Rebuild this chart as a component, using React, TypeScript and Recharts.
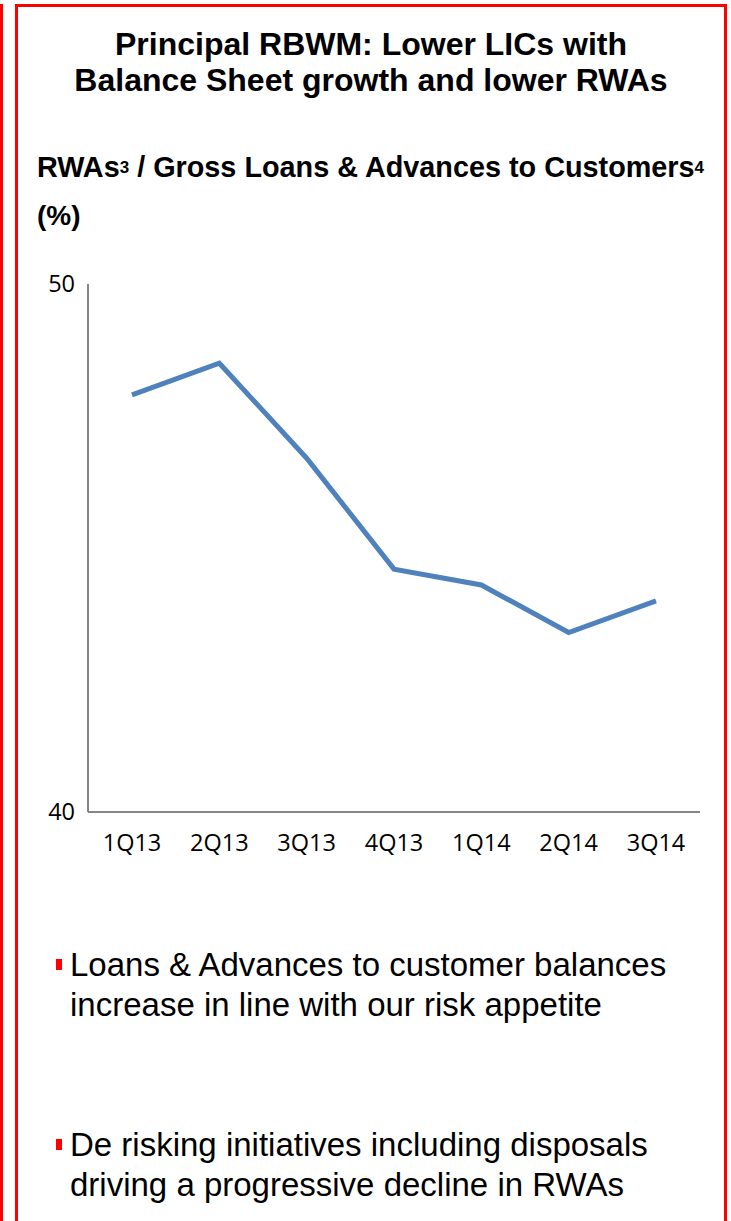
import React from 'react';
import { LineChart, Line, XAxis, YAxis } from 'recharts';

const quarters = ['1Q13', '2Q13', '3Q13', '4Q13', '1Q14', '2Q14', '3Q14'];
const rwaRatio = [47.9, 48.5, 46.7, 44.6, 44.3, 43.4, 44.0];
const yTicks = [40, 50];

const bullets = [
  ['Loans & Advances to customer balances', 'increase in line with our risk appetite'],
  ['De risking initiatives including disposals', 'driving a progressive decline in RWAs'],
];

const data = quarters.map((q, i) => ({ quarter: q, value: rwaRatio[i] }));

const font = '"Liberation Sans", Arial, sans-serif';
const tickFont = '"Open Sans", "Liberation Sans", sans-serif';

export default function App() {
  const sup = { fontSize: 17, verticalAlign: 4 };
  return (
    <div style={{ position: 'absolute', left: 0, top: 0, width: 731, height: 1221, background: '#fff', overflow: 'hidden', fontFamily: font, color: '#000' }}>
      {/* edge of the neighbouring panel */}
      <div style={{ position: 'absolute', left: -100, top: 4, width: 103, height: 1400, border: '3px solid #ff0000', boxSizing: 'border-box' }} />
      {/* panel frame */}
      <div style={{ position: 'absolute', left: 15, top: 4, width: 712, height: 1400, border: '3px solid #ff0000', boxSizing: 'border-box' }} />

      <div style={{ position: 'absolute', left: 15, top: 26, width: 712, textAlign: 'center', fontWeight: 'bold', fontSize: 32, lineHeight: '36px' }}>
        Principal RBWM: Lower LICs with<br />Balance Sheet growth and lower RWAs
      </div>

      <div style={{ position: 'absolute', left: 37, top: 151, fontWeight: 'bold', fontSize: 28.8, lineHeight: '32px', whiteSpace: 'nowrap' }}>
        RWAs<span style={sup}>3</span> / Gross Loans &amp; Advances to Customers<span style={sup}>4</span>
      </div>
      <div style={{ position: 'absolute', left: 37, top: 200, fontWeight: 'bold', fontSize: 28, lineHeight: '32px' }}>(%)</div>

      <div style={{ position: 'absolute', left: 0, top: 260 }}>
        <LineChart width={731} height={620} data={data} margin={{ top: 24, right: 31, bottom: 28, left: 0 }}>
          <XAxis
            dataKey="quarter"
            height={40}
            padding={{ left: 44, right: 44 }}
            tickLine={false}
            tickSize={0}
            tickMargin={22}
            axisLine={{ stroke: '#868686', strokeWidth: 2 }}
            tick={{ fill: '#000', fontSize: 23.5, fontFamily: tickFont }}
            interval={0}
          />
          <YAxis
            width={88}
            domain={[40, 50]}
            ticks={yTicks}
            tickLine={false}
            tickSize={0}
            tickMargin={13}
            axisLine={{ stroke: '#868686', strokeWidth: 2 }}
            tick={{ fill: '#000', fontSize: 23.5, fontFamily: tickFont }}
          />
          <Line type="linear" dataKey="value" stroke="#4f81bd" strokeWidth={5} dot={false} isAnimationActive={false} />
        </LineChart>
      </div>

      {bullets.map((lines, i) => (
        <div key={i} style={{ position: 'absolute', left: 70, top: 945 + i * 180, fontSize: 33, lineHeight: '40px', whiteSpace: 'nowrap' }}>
          <div style={{ position: 'absolute', left: -14, top: 14, width: 6, height: 11, background: '#ff0000' }} />
          {lines[0]}<br />{lines[1]}
        </div>
      ))}
    </div>
  );
}
